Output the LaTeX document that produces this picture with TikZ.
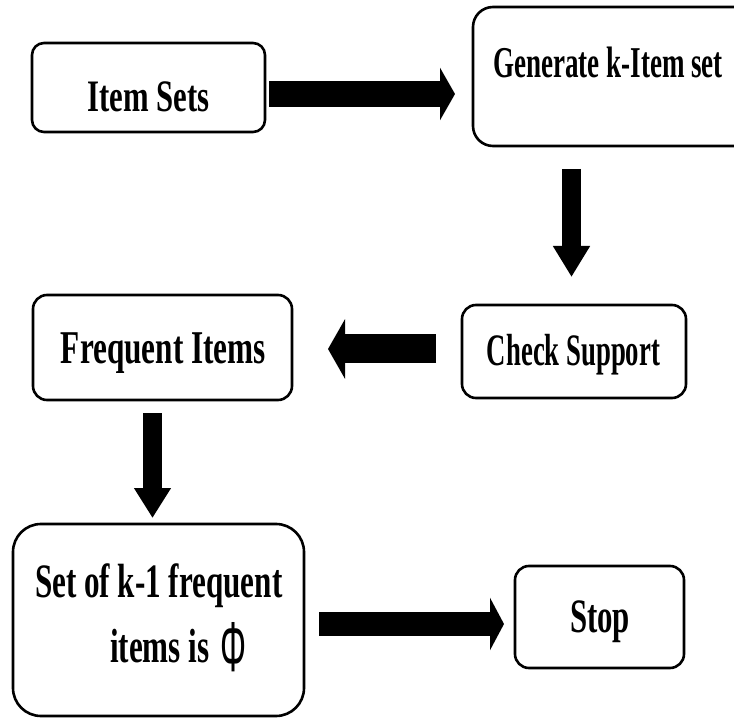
\documentclass[tikz,border=0pt]{standalone}
\usepackage{fontspec}
\usepackage{graphicx}
\setmainfont{Liberation Serif}
\newfontfamily\phifont{Liberation Sans}
\usetikzlibrary{arrows.meta}
\newcommand{\lbl}[3]{\fontsize{#1}{#1}\selectfont\bfseries\scalebox{#2}[1]{#3}}
\begin{document}
\begin{tikzpicture}[x=1pt,y=-1pt,
  box/.style={draw=black,line width=2.6pt,fill=white,outer sep=0pt,inner sep=0pt},
  txt/.style={inner sep=0pt,outer sep=0pt},
  blk/.style={line cap=butt,draw=black}]
\useasboundingbox (0,0) rectangle (734,719);
% boxes
\node[box,rounded corners=12pt,minimum width=233pt,minimum height=89pt] (is) at (148.5,87.5) {};
\node[box,rounded corners=20pt,minimum width=287pt,minimum height=139pt] (gen) at (616.5,76.5) {};
\node[box,rounded corners=14pt,minimum width=259pt,minimum height=105pt] (fi) at (162.5,347.5) {};
\node[box,rounded corners=14pt,minimum width=224pt,minimum height=93pt] (cs) at (574,351.5) {};
\node[box,rounded corners=28pt,minimum width=291pt,minimum height=192pt] (set) at (158.5,620) {};
\node[box,rounded corners=14pt,minimum width=169pt,minimum height=102pt] (stop) at (599.5,617) {};
% texts
\node[txt,anchor=base] (tis) at (148.5,112) {\lbl{45}{0.683}{Item Sets}};
\node[txt,anchor=base] (tgen) at (608,78) {\lbl{44}{0.615}{Generate k-Item set}};
\node[txt,anchor=base] (tfi) at (163.5,363) {\lbl{47}{0.665}{Frequent Items}};
\node[txt,anchor=base] (tcs) at (573.5,366) {\lbl{45}{0.594}{Check Support}};
\node[txt,anchor=base] (tstop) at (600,632) {\lbl{48}{0.642}{Stop}};
\node[txt,anchor=base west] (tset1) at (35,597) {\lbl{48}{0.648}{Set of k-1 frequent}};
\node[txt,anchor=base west] (tset2) at (110,662) {\lbl{48}{0.648}{items is}};
\node[txt,anchor=south] (tphi) at (233,672) {\resizebox{26pt}{49pt}{\phifont Φ}};
% block arrows
\draw[blk,line width=26pt,-{Triangle[length=15pt,width=52pt]},shorten <=4pt,shorten >=18pt]
  (is.east |- 0,94) -- (gen.west |- 0,94);
\draw[blk,line width=19pt,-{Triangle[length=31pt,width=35pt]},shorten <=23pt,shorten >=28pt]
  (gen.south -| 571.5,0) -- (cs.north -| 571.5,0);
\draw[blk,line width=29pt,-{Triangle[length=17pt,width=59pt]},shorten <=26pt,shorten >=36pt]
  (cs.west |- 0,349) -- (fi.east |- 0,349);
\draw[blk,line width=19pt,-{Triangle[length=30pt,width=35pt]},shorten <=13pt,shorten >=6pt]
  (fi.south -| 152.5,0) -- (set.north -| 152.5,0);
\draw[blk,line width=24pt,-{Triangle[length=14pt,width=52pt]},shorten <=15pt,shorten >=11pt]
  (set.east |- 0,624) -- (stop.west |- 0,624);
\end{tikzpicture}
\end{document}
